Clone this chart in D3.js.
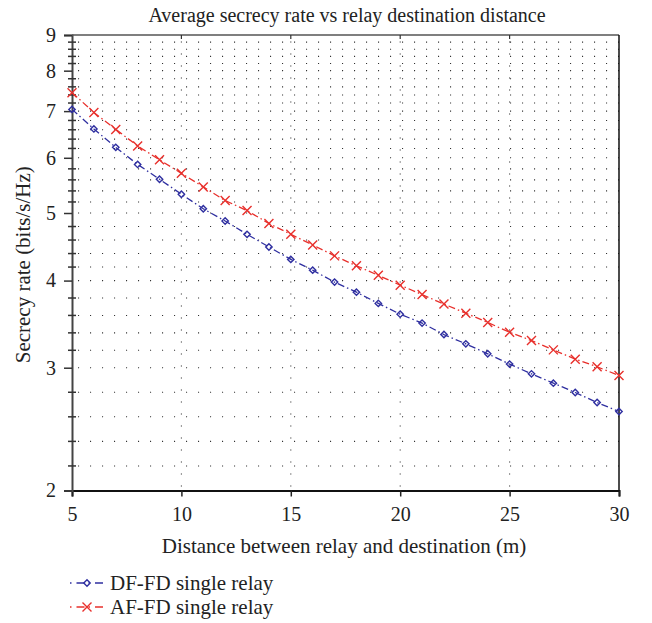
<!DOCTYPE html>
<html>
<head>
<meta charset="utf-8">
<script src="https://cdn.jsdelivr.net/npm/d3@7"></script>
<style>
  body { margin: 0; background: #fff; }
  svg { display: block; font-family: "Liberation Serif", "DejaVu Serif", serif; }
</style>
</head>
<body>
<div id="chart"></div>
<script>
// data
const distance = d3.range(5, 31)
const dfRate = [7.04, 6.60, 6.21, 5.87, 5.59, 5.32, 5.07, 4.87, 4.66, 4.47, 4.29, 4.14, 3.98, 3.85, 3.71, 3.58,
                3.476, 3.347, 3.246, 3.141, 3.036, 2.940, 2.851, 2.764, 2.674, 2.596]
const afRate = [7.44, 6.97, 6.59, 6.24, 5.96, 5.70, 5.45, 5.21, 5.04, 4.83, 4.66, 4.50, 4.34, 4.20, 4.07, 3.94,
                3.82, 3.701, 3.592, 3.483, 3.373, 3.281, 3.182, 3.086, 3.009, 2.924]
const xTicks = [5, 10, 15, 20, 25, 30]
const yTicks = [2, 3, 4, 5, 6, 7, 8, 9]
const seriesNames = ["DF-FD single relay", "AF-FD single relay"]

const width = 652, height = 623
const plotL = 72, plotR = 619, plotT = 35, plotB = 490.5

const blue = "#2f2fa0", red = "#e8302c"
const textColor = "#222"
const dashDot = "7,3,1.5,3"

const svg = d3.select("#chart").append("svg")
    .attr("width", width)
    .attr("height", height)

const x = d3.scaleLinear().domain([5, 30]).range([plotL, plotR])
const y = d3.scaleLog().domain([2, 9]).range([plotB, plotT])

// minor ticks: 4 evenly spaced marks between each pair of labels
const minorPos = []
for (let k = 2; k < 9; k++) {
    for (let j = 1; j < 5; j++) minorPos.push(y(k) + (y(k + 1) - y(k)) * j / 5)
}

// --------- GRID
const grid = svg.append("g").attr("stroke", "#333").attr("stroke-width", 1.1)
    .attr("stroke-dasharray", "1.1,10.9")
grid.selectAll("line.h")
    .data(minorPos.concat(yTicks.slice(1, -1).map(d => y(d))))
    .join("line")
    .attr("x1", plotL + 6).attr("x2", plotR)
    .attr("y1", d => d).attr("y2", d => d)
grid.selectAll("line.v")
    .data(xTicks.slice(1, -1))
    .join("line")
    .attr("x1", d => x(d)).attr("x2", d => x(d))
    .attr("y1", plotB - 4).attr("y2", plotT)

// --------- AXES
const xAxis = d3.axisBottom(x).tickValues(xTicks).tickSize(6).tickPadding(10)
svg.append("g")
    .attr("transform", `translate(0,${plotB})`)
    .call(xAxis)
    .call(g => g.select(".domain").attr("stroke", "#111").attr("stroke-width", 2))
    .call(g => g.selectAll(".tick line").attr("stroke", "#222").attr("stroke-width", 1.5))
    .call(g => g.selectAll("text").attr("font-size", 20).attr("fill", textColor)
        .attr("font-family", "Liberation Serif, serif"))

const yAxis = d3.axisLeft(y).tickValues(yTicks).tickFormat(d3.format("d")).tickSize(8).tickPadding(8)
svg.append("g")
    .attr("transform", `translate(${plotL},0)`)
    .call(yAxis)
    .call(g => g.select(".domain").attr("stroke", "#444").attr("stroke-width", 2))
    .call(g => g.selectAll(".tick line").attr("stroke", "#333").attr("stroke-width", 1.5))
    .call(g => g.selectAll("text").attr("font-size", 20).attr("fill", textColor)
        .attr("font-family", "Liberation Serif, serif"))

// minor y ticks crossing the axis
svg.append("g").selectAll("line")
    .data(minorPos)
    .join("line")
    .attr("x1", plotL - 4).attr("x2", plotL + 4)
    .attr("y1", d => d).attr("y2", d => d)
    .attr("stroke", "#333").attr("stroke-width", 1.5)

// frame top and right
svg.append("line").attr("x1", plotL).attr("x2", plotR).attr("y1", plotT).attr("y2", plotT)
    .attr("stroke", "#555").attr("stroke-width", 1.5)
svg.append("line").attr("x1", plotR).attr("x2", plotR).attr("y1", plotT).attr("y2", plotB)
    .attr("stroke", "#111").attr("stroke-width", 1.5)
svg.append("g").selectAll("line")
    .data(xTicks.slice(1, -1))
    .join("line")
    .attr("x1", d => x(d)).attr("x2", d => x(d))
    .attr("y1", plotT).attr("y2", plotT + 4)
    .attr("stroke", "#333").attr("stroke-width", 1.2)

// --------- SERIES
const line = d3.line().x((d, i) => x(distance[i])).y(d => y(d))

const diamond = (g, cx, cy, color) => g.append("path")
    .attr("d", `M${cx},${cy - 3.2}L${cx + 3.2},${cy}L${cx},${cy + 3.2}L${cx - 3.2},${cy}Z`)
    .attr("fill", "none").attr("stroke", color).attr("stroke-width", 1.4)
const cross = (g, cx, cy, color) => g.append("path")
    .attr("d", `M${cx - 4.5},${cy - 4.5}L${cx + 4.5},${cy + 4.5}M${cx - 4.5},${cy + 4.5}L${cx + 4.5},${cy - 4.5}`)
    .attr("fill", "none").attr("stroke", color).attr("stroke-width", 1.4)

const series = [
    {values: dfRate, color: blue, marker: diamond},
    {values: afRate, color: red, marker: cross}
]

series.forEach(s => {
    svg.append("path")
        .attr("d", line(s.values))
        .attr("fill", "none")
        .attr("stroke", s.color)
        .attr("stroke-width", 1.3)
        .attr("stroke-dasharray", dashDot)
    const mg = svg.append("g")
    s.values.forEach((v, i) => s.marker(mg, x(distance[i]), y(v), s.color))
})

// --------- TEXT
svg.append("text")
    .attr("x", 347).attr("y", 22)
    .attr("text-anchor", "middle")
    .attr("font-size", 20).attr("fill", textColor)
    .text("Average secrecy rate vs relay destination distance")

svg.append("text")
    .attr("x", 344).attr("y", 553)
    .attr("text-anchor", "middle")
    .attr("font-size", 21).attr("fill", textColor)
    .text("Distance between relay and destination (m)")

svg.append("text")
    .attr("transform", `translate(30,${(plotT + plotB) / 2 + 2}) rotate(-90)`)
    .attr("text-anchor", "middle")
    .attr("font-size", 21).attr("fill", textColor)
    .text("Secrecy rate (bits/s/Hz)")

// --------- LEGEND
const legend = svg.append("g")
series.forEach((s, i) => {
    const ly = 583 + i * 24
    legend.append("line")
        .attr("x1", 70).attr("x2", 104).attr("y1", ly).attr("y2", ly)
        .attr("stroke", s.color).attr("stroke-width", 1.3)
        .attr("stroke-dasharray", "1.5,5,8,4")
    s.marker(legend, 87, ly, s.color)
    legend.append("text")
        .attr("x", 110).attr("y", ly + 7)
        .attr("font-size", 21).attr("fill", textColor)
        .text(seriesNames[i])
})
</script>
</body>
</html>
